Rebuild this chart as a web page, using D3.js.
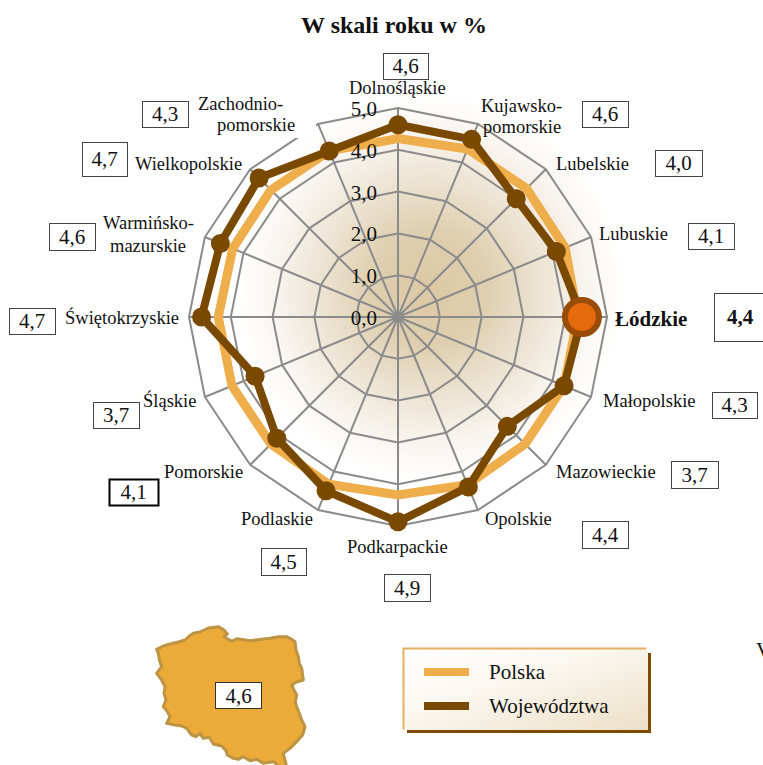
<!DOCTYPE html>
<html><head><meta charset="utf-8">
<script src="https://cdn.jsdelivr.net/npm/d3@7/dist/d3.min.js"></script>
<style>html,body{margin:0;padding:0;background:#fff;overflow:hidden}svg{display:block}text{font-family:"Liberation Serif",serif;fill:#111}</style>
</head><body><svg id="c" width="763" height="765"></svg>
<script>
const categories=["Dolnośląskie","Kujawsko-pomorskie","Lubelskie","Lubuskie","Łódzkie","Małopolskie","Mazowieckie","Opolskie","Podkarpackie","Podlaskie","Pomorskie","Śląskie","Świętokrzyskie","Warmińsko-mazurskie","Wielkopolskie","Zachodniopomorskie"];
const wojewodztwa=[4.6,4.6,4.0,4.1,4.4,4.3,3.7,4.4,4.9,4.5,4.1,3.7,4.7,4.6,4.7,4.3];
const polska=[4.27,4.35,4.35,4.33,4.3,4.3,4.3,4.34,4.26,4.33,4.3,4.3,4.3,4.28,4.3,4.3];
const ticks=[0,1,2,3,4,5];
const valueLabels=["4,6","4,6","4,0","4,1","4,4","4,3","3,7","4,4","4,9","4,5","4,1","3,7","4,7","4,6","4,7","4,3"];
const highlighted="Łódzkie";
const legendNames=["Polska","Województwa"];
const polskaLabel="4,6";

// layout: [box x0,y0,x1,y1], and label lines [text,x,baseline]
const boxes=[[383,53,428,79],[582,101,628,127],[655,150,702,176],[688,223,734,249],[714,293,775,341],[712,392,757,418],[671,461,718,488],[582,521,628,548],[384,574,430,601],[261,548,306,575],[109,479,158,505],[93,402,139,428],[9,308,55,334],[49,223,95,250],[82,142,127,176],[142,101,188,127]];
const labelLines=[[["Dolnośląskie",349,94]],[["Kujawsko-",481,112],["pomorskie",483,133]],[["Lubelskie",556,170]],[["Lubuskie",599,240]],[["Łódzkie",615,326]],[["Małopolskie",603,407]],[["Mazowieckie",556,478]],[["Opolskie",485,525]],[["Podkarpackie",347,553]],[["Podlaskie",241,525]],[["Pomorskie",164,478]],[["Śląskie",143,407]],[["Świętokrzyskie",65,324]],[["Warmińsko-",103,229],["mazurskie",110,252]],[["Wielkopolskie",135,170]],[["Zachodnio-",198,110],["pomorskie",217,131]]];
const polandOutline=[[20,88],[40,78],[60,72],[85,66],[105,60],[118,48],[130,40],[150,36],[175,24],[205,20],[222,30],[232,42],[222,50],[235,58],[245,64],[262,56],[300,62],[335,58],[360,55],[385,50],[410,50],[425,58],[435,65],[438,90],[445,110],[448,130],[455,145],[460,180],[440,186],[425,195],[432,210],[440,225],[436,245],[440,260],[450,285],[455,300],[465,320],[458,345],[440,365],[420,385],[400,400],[405,420],[410,440],[395,445],[370,425],[340,430],[320,418],[300,422],[280,410],[265,418],[250,415],[232,405],[228,392],[215,378],[190,372],[178,352],[160,355],[150,340],[138,350],[125,345],[110,325],[95,318],[75,315],[50,310],[60,290],[52,275],[40,260],[48,240],[42,220],[45,200],[35,180],[20,160],[35,140],[28,120],[25,100]];

const svg=d3.select("#c");
const cx=398,cy=317;
const r=d3.scaleLinear().domain([0,5]).range([0,209]);
const ang=d3.scalePoint().domain(categories).range([0,2*Math.PI*15/16]);
const radial=d3.lineRadial().angle(d=>ang(d.c)).radius(d=>r(d.v)).curve(d3.curveLinearClosed);
const defs=svg.append("defs");
const g1=defs.append("radialGradient").attr("id","bg").attr("gradientUnits","userSpaceOnUse").attr("cx",430).attr("cy",288).attr("r",192);
[[0,"#dcc8a4"],[.3,"#dfcfb0"],[.55,"#ebe2d0"],[.8,"#f8f4ee"],[1,"#ffffff"]].forEach(s=>g1.append("stop").attr("offset",s[0]).attr("stop-color",s[1]));
const g2=defs.append("linearGradient").attr("id","lg").attr("x1",0).attr("y1",0).attr("x2",1).attr("y2",1);
g2.append("stop").attr("offset",0).attr("stop-color","#ffffff");
g2.append("stop").attr("offset",.4).attr("stop-color","#fbf8f1");
g2.append("stop").attr("offset",1).attr("stop-color","#ece0c6");

svg.append("circle").attr("cx",430).attr("cy",288).attr("r",192).attr("fill","url(#bg)");

const chart=svg.append("g").attr("transform",`translate(${cx},${cy})`);
ticks.slice(1).forEach(t=>{
  chart.append("path").attr("d",radial(categories.map(c=>({c,v:t})))).attr("fill","none").attr("stroke","#8b8b8b").attr("stroke-width",2);
});
categories.forEach(c=>{
  const p=d3.pointRadial(ang(c),r(5));
  chart.append("line").attr("x2",p[0]).attr("y2",p[1]).attr("stroke","#8b8b8b").attr("stroke-width",2);
});
chart.append("circle").attr("r",4.5).attr("fill","#8b8b8b");
// white label backing that masks the outer ring
svg.append("rect").attr("x",195).attr("y",92).attr("width",121).attr("height",46).attr("fill","#fff");

ticks.forEach(t=>{
  svg.append("text").attr("x",377).attr("y",cy-r(t)+8).attr("text-anchor","end").attr("font-size",21).text(d3.format(".1f")(t).replace(".",","));
});

chart.append("path").attr("d",radial(categories.map((c,i)=>({c,v:polska[i]})))).attr("fill","none").attr("stroke","#EFAE4C").attr("stroke-width",9).attr("stroke-linejoin","miter");
chart.append("path").attr("d",radial(categories.map((c,i)=>({c,v:wojewodztwa[i]})))).attr("fill","none").attr("stroke","#7A4900").attr("stroke-width",8).attr("stroke-linejoin","round");
categories.forEach((c,i)=>{
  const p=d3.pointRadial(ang(c),r(wojewodztwa[i]));
  if(c===highlighted){
    chart.append("circle").attr("cx",p[0]).attr("cy",p[1]).attr("r",17).attr("fill","#E56A0C").attr("stroke","#984C08").attr("stroke-width",6);
  } else {
    chart.append("circle").attr("cx",p[0]).attr("cy",p[1]).attr("r",9.5).attr("fill","#7A4900");
  }
});

svg.append("text").attr("x",394).attr("y",33).attr("text-anchor","middle").attr("font-size",24).attr("font-weight","bold").text("W skali roku w %");

categories.forEach((c,i)=>{
  const hl=c===highlighted;
  labelLines[i].forEach(l=>{
    svg.append("text").attr("x",l[1]).attr("y",l[2]).attr("font-size",hl?21:18.5).attr("font-weight",hl?"bold":"normal").text(l[0]);
  });
  const b=boxes[i];
  svg.append("rect").attr("x",b[0]+.5).attr("y",b[1]+.5).attr("width",b[2]-b[0]).attr("height",b[3]-b[1]).attr("fill","#fff").attr("stroke",c==="Pomorskie"?"#000":"#444").attr("stroke-width",c==="Pomorskie"?2:1);
  svg.append("text").attr("x",hl?740:(b[0]+b[2])/2).attr("y",(b[1]+b[3])/2+7).attr("text-anchor","middle").attr("font-size",21).attr("font-weight",hl?"bold":"normal").text(valueLabels[i]);
});

// map
const mx=d3.scaleLinear().domain([0,480]).range([150,310]);
const my=d3.scaleLinear().domain([0,435]).range([620,765]);
const mapLine=d3.line().x(d=>mx(d[0])).y(d=>my(d[1])).curve(d3.curveLinearClosed);
svg.append("path").attr("d",mapLine(polandOutline)).attr("fill","#ECAB38").attr("stroke","#BC9444").attr("stroke-width",3).attr("stroke-linejoin","round");
svg.append("rect").attr("x",215.5).attr("y",682.5).attr("width",46).attr("height",26).attr("fill","#fff").attr("stroke","#333");
svg.append("text").attr("x",238.5).attr("y",703).attr("text-anchor","middle").attr("font-size",21).text(polskaLabel);

// legend
svg.append("rect").attr("x",407).attr("y",653).attr("width",244).attr("height",80).attr("fill","#7F4B00");
svg.append("rect").attr("x",403).attr("y",648).attr("width",245).attr("height",82).attr("fill","url(#lg)");
svg.append("path").attr("d","M403.5,729.5V648.5H646").attr("fill","none").attr("stroke","#E2B060").attr("stroke-width",2);
const legendColors=["#EFAE4C","#7A4900"];
legendNames.forEach((n,i)=>{
  const y=[672,706][i];
  svg.append("rect").attr("x",424).attr("y",y-4).attr("width",45).attr("height",8).attr("fill",legendColors[i]);
  svg.append("text").attr("x",489).attr("y",y+7).attr("font-size",21).text(n);
});
svg.append("text").attr("x",756).attr("y",657).attr("font-size",21).text("V");
</script></body></html>
